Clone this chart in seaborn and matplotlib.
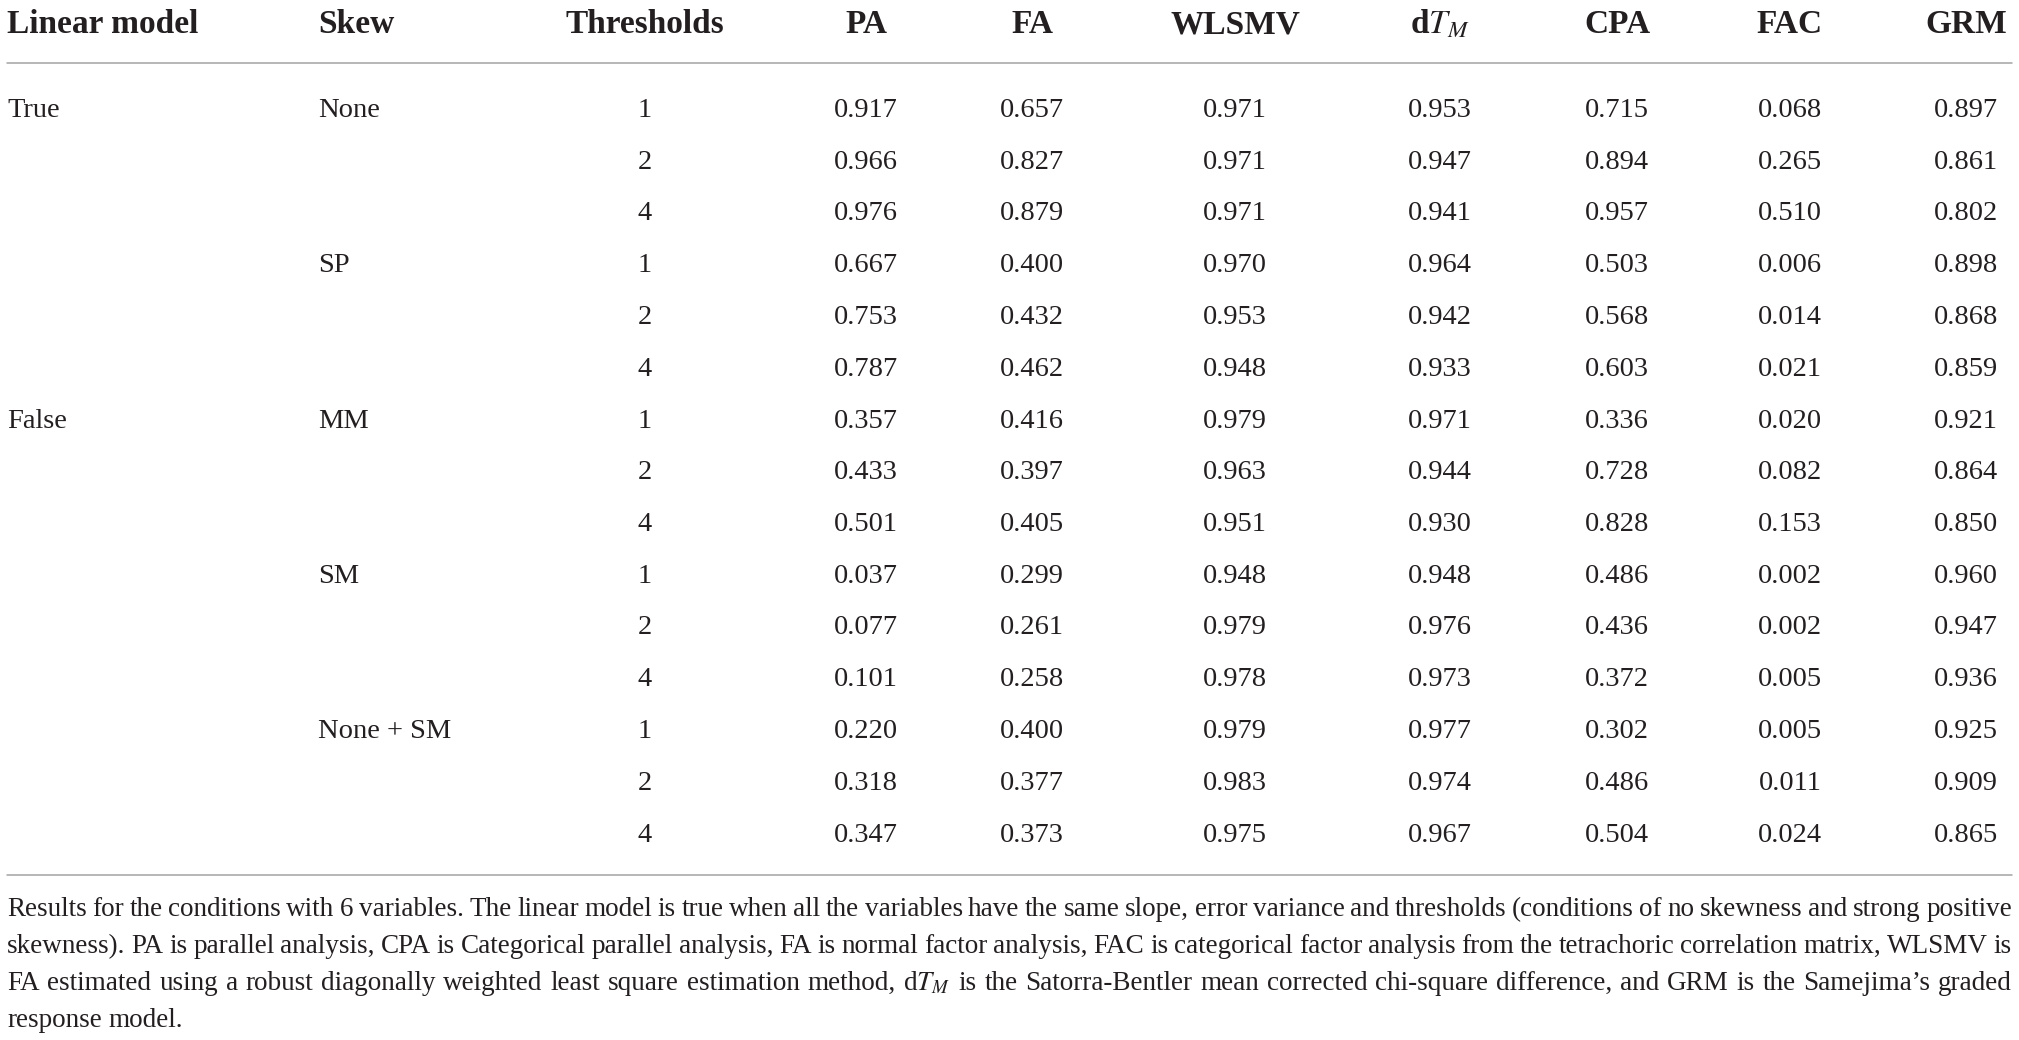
import matplotlib
matplotlib.use("Agg")
import matplotlib.pyplot as plt
import pandas as pd
import seaborn as sns

# table content
linear_model = ["True", "True", "False", "False", "False"]
skew = ["None", "SP", "MM", "SM", "None + SM"]
thresholds = [1, 2, 4]
methods = ["PA", "FA", "WLSMV", r"d$\mathit{T}_{M}$", "CPA", "FAC", "GRM"]

pa = [0.917, 0.966, 0.976, 0.667, 0.753, 0.787, 0.357, 0.433, 0.501,
      0.037, 0.077, 0.101, 0.220, 0.318, 0.347]
fa = [0.657, 0.827, 0.879, 0.400, 0.432, 0.462, 0.416, 0.397, 0.405,
      0.299, 0.261, 0.258, 0.400, 0.377, 0.373]
wlsmv = [0.971, 0.971, 0.971, 0.970, 0.953, 0.948, 0.979, 0.963, 0.951,
         0.948, 0.979, 0.978, 0.979, 0.983, 0.975]
dtm = [0.953, 0.947, 0.941, 0.964, 0.942, 0.933, 0.971, 0.944, 0.930,
       0.948, 0.976, 0.973, 0.977, 0.974, 0.967]
cpa = [0.715, 0.894, 0.957, 0.503, 0.568, 0.603, 0.336, 0.728, 0.828,
       0.486, 0.436, 0.372, 0.302, 0.486, 0.504]
fac = [0.068, 0.265, 0.510, 0.006, 0.014, 0.021, 0.020, 0.082, 0.153,
       0.002, 0.002, 0.005, 0.005, 0.011, 0.024]
grm = [0.897, 0.861, 0.802, 0.898, 0.868, 0.859, 0.921, 0.864, 0.850,
       0.960, 0.947, 0.936, 0.925, 0.909, 0.865]

notes = [
    "Results for the conditions with 6 variables. The linear model is true when all the variables have the same slope, "
    "error variance and thresholds (conditions of no skewness and strong positive",
    "skewness). PA is parallel analysis, CPA is Categorical parallel analysis, FA is normal factor analysis, FAC is "
    "categorical factor analysis from the tetrachoric correlation matrix, WLSMV is",
    r"FA estimated using a robust diagonally weighted least square estimation method, d$\mathit{T}_{M}$ is the "
    "Satorra-Bentler mean corrected chi-square difference, and GRM is the Samejima\u2019s graded",
    "response model.",
]

rows = []
for g in range(len(skew)):
    for k, t in enumerate(thresholds):
        rows.append({"Linear model": linear_model[g] if g in (0, 2) and k == 0 else "",
                     "Skew": skew[g] if k == 0 else "",
                     "Thresholds": str(t)})
df = pd.DataFrame(rows)
for name, vals in zip(methods, [pa, fa, wlsmv, dtm, cpa, fac, grm]):
    df[name] = [f"{v:.3f}" for v in vals]

sns.set_theme(style="white")
plt.rcParams["font.family"] = ["Liberation Serif", "DejaVu Serif"]
plt.rcParams["mathtext.fontset"] = "stix"

W, H = 2019, 1040
ink = "#231f20"
rule = "#a3a3a3"
left_x = {"Linear model": 7, "Skew": 318}
center_x = {"Thresholds": 645, "PA": 866, "FA": 1032, "WLSMV": 1235,
            methods[3]: 1440, "CPA": 1617, "FAC": 1790, "GRM": 1966}

fig = plt.figure(figsize=(W / 100, H / 100), dpi=100)
ax = fig.add_axes([0, 0, 1, 1])
ax.set_xlim(0, W)
ax.set_ylim(H, 0)
ax.axis("off")

# header
for col in df.columns:
    if col in left_x:
        ax.text(left_x[col], 33, col, ha="left", va="baseline",
                fontsize=24, fontweight="bold", color=ink)
    else:
        ax.text(center_x[col], 33, col, ha="center", va="baseline",
                fontsize=24, fontweight="bold", color=ink)

ax.plot([7, 2012], [63, 63], color=rule, lw=1.1)
ax.plot([7, 2012], [875, 875], color=rule, lw=1.1)

# body
for i, row in df.iterrows():
    y = 117 + 51.75 * i
    for col in df.columns:
        if col in left_x:
            ax.text(left_x[col], y, row[col], ha="left", va="baseline",
                    fontsize=20.5, color=ink)
        else:
            ax.text(center_x[col], y, row[col], ha="center", va="baseline",
                    fontsize=20.5, color=ink)

# footnote, justified like the journal layout
renderer = fig.canvas.get_renderer()


def put_line(line, y, justify):
    words = line.split(" ")
    texts = [ax.text(0, y, w, ha="left", va="baseline", fontsize=19.5, color=ink)
             for w in words]
    widths = [t.get_window_extent(renderer).width for t in texts]
    space = texts[0].get_fontsize() * 100 / 72 * 0.25
    gap = (2012 - 7 - sum(widths)) / (len(words) - 1) if justify else space
    gap = max(gap, 2.0)
    x = 7
    for t, w in zip(texts, widths):
        t.set_x(x)
        x += w + gap


for k, line in enumerate(notes):
    put_line(line, 916 + 37 * k, k < len(notes) - 1)

fig.savefig("out.png", dpi=100)
